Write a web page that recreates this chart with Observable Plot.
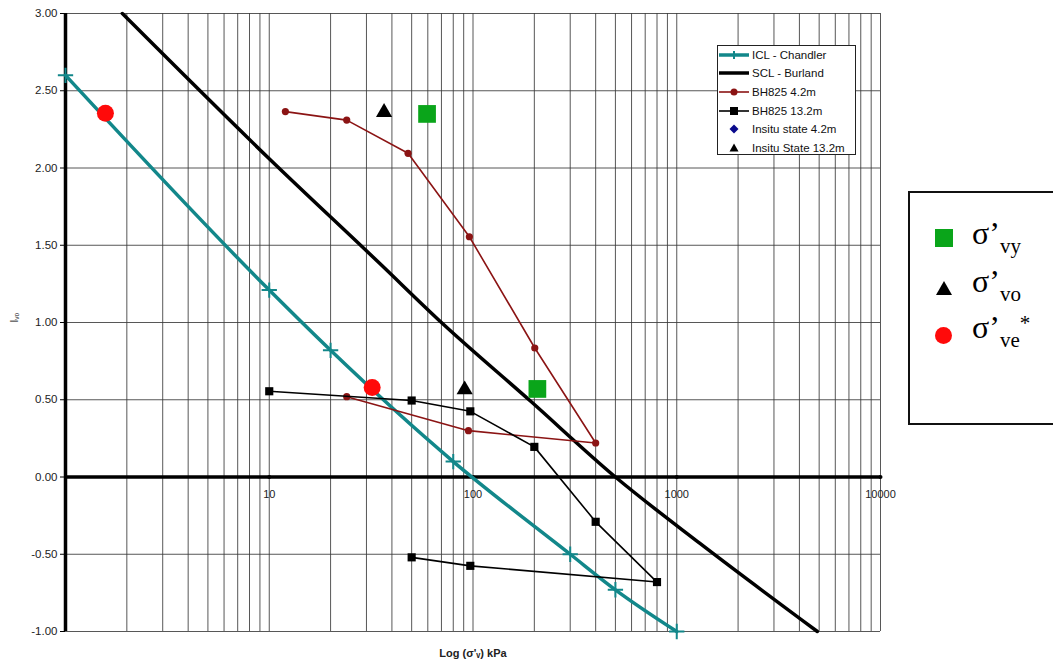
<!DOCTYPE html>
<html><head><meta charset="utf-8">
<script src="https://cdn.jsdelivr.net/npm/d3@7"></script>
<script src="https://cdn.jsdelivr.net/npm/@observablehq/plot@0.6"></script>
<style>
body{margin:0;background:#fff;}
#wrap{position:relative;width:1053px;height:662px;overflow:hidden;font-family:"Liberation Sans",Arial,sans-serif;}
#leg1{position:absolute;left:717px;top:45px;width:139px;height:110px;background:#fff;border:1px solid #222;box-sizing:border-box;}
#leg2{position:absolute;left:908px;top:191px;width:160px;height:234px;background:#fff;border:2px solid #111;box-sizing:border-box;}
.it{position:absolute;left:62px;font-family:"Liberation Serif","Times New Roman",serif;font-size:32px;line-height:32px;color:#000;white-space:nowrap;}
.it sub{font-size:21px;vertical-align:-9px;line-height:0;}
.it sup{font-size:21px;vertical-align:8px;line-height:0;}
.sw{position:absolute;}
</style></head><body><div id="wrap"></div>
<script>
// ---- data (sigma'v in kPa, Iv) ----
const iclSigma = [1, 10, 20, 80, 300, 500, 1000];
const iclIv    = [2.60, 1.21, 0.82, 0.10, -0.50, -0.73, -1.00];
const sclSigma = [1.9, 10, 35, 70, 192, 500, 1300, 4900];
const sclIv    = [3.00, 2.06, 1.38, 1.00, 0.49, 0.00, -0.43, -1.00];
const bh42Sigma = [12, 24, 48, 96, 201, 400, 95, 24];
const bh42Iv    = [2.365, 2.31, 2.095, 1.555, 0.835, 0.22, 0.30, 0.52];
const bh132Sigma = [10, 50, 97, 200, 400, 800, 97, 50];
const bh132Iv    = [0.555, 0.495, 0.425, 0.195, -0.29, -0.68, -0.575, -0.52];
const insitu132Sigma = [36.6, 91];
const insitu132Iv    = [2.36, 0.565];
const yieldSigma = [59.5, 207];
const yieldIv    = [2.35, 0.57];
const veSigma = [1.57, 32];
const veIv    = [2.355, 0.58];
const yTicks = [-1, -0.5, 0, 0.5, 1, 1.5, 2, 2.5, 3];
const xTickLabels = [10, 100, 1000, 10000];
const xGrid = [1,2,3,4,5,6,7,8,9,10,20,30,40,50,60,70,80,90,100,200,300,400,500,600,700,800,900,1000,2000,3000,4000,5000,6000,7000,8000,9000,10000];
const legendNames = ["ICL - Chandler", "SCL - Burland", "BH825 4.2m", "BH825 13.2m", "Insitu state 4.2m", "Insitu State 13.2m"];

const rows = (s, v) => s.map((d, i) => ({s: d, v: v[i]}));
const TEAL = "#12878a", DRED = "#8b1414";

const chart = Plot.plot({
  width: 1053, height: 662,
  marginLeft: 65, marginRight: 173, marginTop: 13, marginBottom: 31,
  x: {type: "log", domain: [1, 10000], axis: null},
  y: {domain: [-1, 3]},
  style: {fontFamily: "Liberation Sans, Arial, sans-serif", fontSize: "11px", color: "#222", background: "white", overflow: "visible"},
  marks: [
    Plot.gridX(xGrid, {stroke: "#3a3a3a", strokeOpacity: 0.85, strokeWidth: 1}),
    Plot.gridY(yTicks, {stroke: "#3a3a3a", strokeOpacity: 0.85, strokeWidth: 1}),
    Plot.axisY(yTicks, {tickFormat: d => d.toFixed(2), tickSize: 5, tickPadding: 3, label: null, stroke: "#000", fontSize: 11.5}),
    Plot.text(["Iᵥₒ"], {frameAnchor: "left", dx: -51, rotate: -90, fontSize: 10}),
    Plot.text(["Log (σ'ᵥ) kPa"], {frameAnchor: "bottom", dy: 25, fontWeight: "bold", fontSize: 11}),
    Plot.ruleY([0], {stroke: "#000", strokeWidth: 3.5}),
    Plot.ruleX([1], {stroke: "#000", strokeWidth: 3.5}),
    Plot.dot(xTickLabels, {x: d => d, y: 0, r: 2, fill: "#000"}),
    Plot.text(xTickLabels, {x: d => d, y: 0, dy: 17, text: d => String(d), fontSize: 11}),
    Plot.line(rows(sclSigma, sclIv), {x: "s", y: "v", stroke: "#000", strokeWidth: 3.5, curve: "monotone-x"}),
    Plot.line(rows(iclSigma, iclIv), {x: "s", y: "v", stroke: TEAL, strokeWidth: 3.5, curve: "monotone-x"}),
    Plot.dot(rows(iclSigma, iclIv), {x: "s", y: "v", symbol: "plus", r: 5, stroke: TEAL, strokeWidth: 2}),
    Plot.line(rows(bh42Sigma, bh42Iv), {x: "s", y: "v", stroke: DRED, strokeWidth: 1.6}),
    Plot.dot(rows(bh42Sigma, bh42Iv), {x: "s", y: "v", r: 3.6, fill: DRED}),
    Plot.line(rows(bh132Sigma, bh132Iv), {x: "s", y: "v", stroke: "#000", strokeWidth: 1.6}),
    Plot.dot(rows(bh132Sigma, bh132Iv), {x: "s", y: "v", symbol: "square", r: 4.6, fill: "#000"}),
    Plot.dot(rows(insitu132Sigma, insitu132Iv), {x: "s", y: "v", symbol: "triangle", r: 6, fill: "#000"}),
    Plot.dot(rows(yieldSigma, yieldIv), {x: "s", y: "v", symbol: "square", r: 10, fill: "#0aa51a"}),
    Plot.dot(rows(veSigma, veIv), {x: "s", y: "v", r: 8.5, fill: "#ff0a0a"})
  ]
});
const wrap = document.getElementById("wrap");
wrap.appendChild(chart);

// inner legend
const legSym = [
  `<line x1="2" x2="32" stroke="${TEAL}" stroke-width="3.5"/><path d="M17,-4V4M13,0H21" stroke="${TEAL}" stroke-width="2"/>`,
  `<line x1="2" x2="32" stroke="#000" stroke-width="3.5"/>`,
  `<line x1="2" x2="32" stroke="${DRED}" stroke-width="1.6"/><circle cx="17" r="3.5" fill="${DRED}"/>`,
  `<line x1="2" x2="32" stroke="#000" stroke-width="1.6"/><rect x="13" y="-4" width="8" height="8" fill="#000"/>`,
  `<path d="M17,-4.5L21.5,0L17,4.5L12.5,0Z" fill="#0a0a8c"/>`,
  `<path d="M17,-4.5L21.5,3.5L12.5,3.5Z" fill="#000"/>`
];
const legY = [10, 28, 47, 66, 84, 103];
let s = `<svg width="139" height="110" style="position:absolute;left:-1px;top:-1px;font-family:'Liberation Sans',Arial,sans-serif;font-size:11.5px">`;
legendNames.forEach((n, i) => {
  s += `<g transform="translate(0,${legY[i]})">${legSym[i]}<text x="35" dy="0.35em" fill="#111">${n}</text></g>`;
});
s += `</svg>`;
const l1 = document.createElement("div"); l1.id = "leg1"; l1.innerHTML = s; wrap.appendChild(l1);

// right legend
const l2 = document.createElement("div"); l2.id = "leg2";
l2.innerHTML = `
<div class="sw" style="left:25px;top:36px;width:18px;height:18px;background:#0aa51a"></div>
<div class="it" style="top:24px">σ’<sub>vy</sub></div>
<svg class="sw" style="left:24px;top:86px" width="20" height="18"><path d="M10,2L18,16L2,16Z" fill="#000"/></svg>
<div class="it" style="top:72px">σ’<sub>vo</sub></div>
<div class="sw" style="left:25px;top:134px;width:17px;height:17px;border-radius:50%;background:#ff0a0a"></div>
<div class="it" style="top:118px">σ’<sub>ve</sub><sup>*</sup></div>`;
wrap.appendChild(l2);
</script></body></html>
